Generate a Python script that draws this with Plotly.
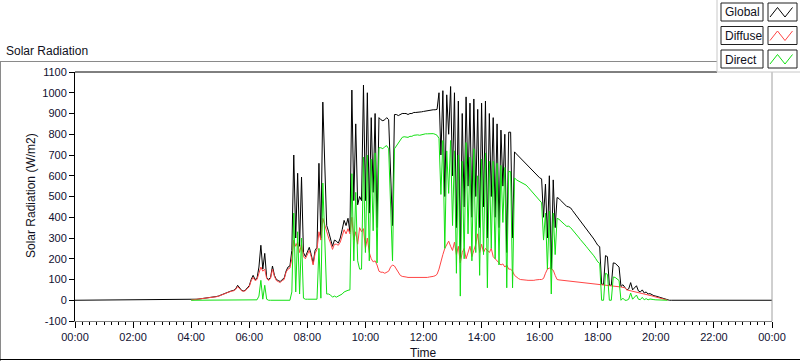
import plotly.graph_objects as go
from datetime import datetime, timedelta

# ---------------- data (W/m2), 4-minute samples starting 04:00 ----------------
day = datetime(2024, 1, 1)
start = day + timedelta(hours=4)
step_min = 4

global_wm2 = [
    2, 3, 4, 5, 6, 7, 8, 9, 10, 11, 12, 14, 16, 18, 20,                      # 04
    24, 28, 32, 36, 40, 45, 46, 48, 55, 72, 58, 48, 45, 48, 60,              # 05
    70, 100, 120, 100, 105, 160, 265, 150, 226, 110, 100, 110, 165, 120, 100,  # 06
    95, 90, 100, 105, 140, 160, 165, 240, 700, 300, 612, 260, 594, 230, 210,   # 07
    230, 255, 220, 178, 240, 255, 660, 300, 955, 700, 360, 330, 300, 260, 290,  # 08
    285, 275, 300, 340, 385, 360, 395, 330, 1013, 480, 850, 460, 500, 480, 1037,  # 09
    480, 1000, 420, 880, 520, 900, 350, 880, 870, 865, 870, 880, 870, 580, 360,  # 10
    895, 895, 890, 895, 900, 900, 900, 895, 900, 900, 905, 905, 905, 905, 908,  # 11
    910, 912, 912, 915, 915, 918, 918, 920, 1000, 700, 1010, 500, 990, 800, 1030,  # 12
    600, 1000, 350, 960, 200, 900, 450, 980, 550, 950, 400, 970, 500, 920, 350,  # 13
    950, 450, 960, 300, 900, 500, 880, 400, 850, 350, 820, 550, 800, 230, 810,  # 14
    810, 300, 715, 705, 695, 685, 680, 665, 660, 650, 640, 630, 620, 610, 600,  # 15
    590, 585, 400, 560, 300, 600, 150, 580, 350, 495, 490, 480, 470, 460, 452,  # 16
    450, 445, 432, 420, 408, 395, 382, 368, 357, 345, 333, 322, 308, 295, 280,  # 17
    265, 258, 78, 76, 215, 210, 73, 72, 180, 178, 170, 160, 66, 75, 62,        # 18
    50, 55, 85, 50, 60, 70, 45, 40, 50, 35, 40, 30, 32, 25, 22,                # 19
    20, 17, 14, 11, 8, 5, 2, 0, 0, 0, 0,                                       # 20
]

diffuse_wm2 = [
    1, 2, 3, 4, 5, 6, 7, 8, 9, 10, 11, 13, 15, 17, 19,
    22, 26, 30, 34, 38, 42, 44, 46, 52, 66, 55, 46, 43, 46, 56,
    65, 95, 110, 95, 100, 130, 160, 140, 150, 105, 95, 105, 150, 115, 95,
    90, 85, 95, 100, 135, 150, 155, 200, 290, 260, 280, 230, 270, 210, 200,
    220, 240, 210, 170, 225, 245, 330, 290, 395, 360, 330, 300, 275, 245, 270,
    270, 265, 280, 310, 340, 320, 345, 320, 400, 290, 330, 270, 350, 330, 345,
    250, 300, 230, 200, 185, 190, 170, 140, 135, 135, 130, 135, 140, 160, 170,
    165, 150, 130, 120, 115, 112, 112, 110, 110, 110, 110, 108, 108, 110, 110,
    110, 110, 110, 112, 112, 115, 118, 125, 150, 190, 220, 250, 270, 285, 260,
    240, 280, 220, 260, 180, 230, 250, 200, 230, 260, 210, 240, 270, 320, 230,
    270, 230, 250, 240, 230, 250, 210, 200, 190, 180, 170, 175, 160, 170, 150,
    150, 140, 120, 110, 105, 100, 100, 98, 97, 96, 95, 95, 96, 98, 100,
    100, 100, 105, 130, 150, 155, 150, 145, 120, 100, 98, 97, 96, 95, 94,
    93, 92, 91, 90, 89, 88, 87, 86, 85, 84, 83, 82, 81, 80, 79,
    78, 77, 76, 75, 74, 73, 72, 71, 70, 69, 68, 66, 64, 62, 60,
    50, 48, 46, 44, 42, 40, 38, 36, 34, 32, 30, 27, 24, 21, 18,
    16, 14, 12, 10, 7, 4, 1,
]

direct_wm2 = [
    0, 0, 0, 0, 0, 0, 0, 0, 0, 0, 0, 0, 1, 1, 1,
    1, 1, 1, 1, 2, 2, 2, 2, 2, 3, 2, 2, 2, 2, 3,
    0, 0, 0, 0, 2, 20, 96, 5, 72, 5, 0, 0, 0, 0, 0,
    0, 0, 0, 0, 0, 0, 0, 40, 420, 40, 330, 30, 300, 10, 5,
    5, 5, 5, 5, 5, 5, 250, 10, 565, 330, 30, 30, 25, 15, 20,
    15, 20, 25, 30, 40, 45, 48, 50, 610, 190, 520, 190, 150, 150, 690,
    230, 700, 190, 680, 335, 710, 180, 735, 735, 730, 740, 745, 730, 420, 190,
    730, 745, 760, 775, 785, 788, 788, 785, 790, 790, 795, 797, 797, 795, 798,
    800, 802, 802, 803, 803, 803, 800, 795, 780, 510, 770, 250, 720, 515, 770,
    360, 720, 130, 700, 20, 670, 200, 760, 320, 690, 190, 730, 230, 600, 120,
    680, 220, 710, 60, 670, 250, 670, 200, 660, 170, 650, 375, 640, 60, 620,
    620, 60, 590, 580, 575, 570, 565, 560, 555, 545, 535, 525, 515, 505, 490,
    480, 470, 290, 420, 150, 430, 30, 420, 220, 395, 390, 380, 372, 364, 356,
    357, 350, 340, 328, 318, 305, 293, 280, 270, 260, 248, 238, 225, 214, 200,
    185, 178, 0, 0, 130, 125, 0, 0, 112, 110, 102, 95, 0, 10, 0,
    0, 5, 35, 5, 15, 25, 5, 3, 14, 2, 8, 2, 6, 3, 3,
    2, 2, 1, 1, 1, 1, 0,
]

series_names = ["Global", "Diffuse", "Direct"]
series_colors = ["#000000", "#ff4545", "#12e012"]
y_ticks = list(range(-100, 1101, 100))


def times(n):
    return [start + timedelta(minutes=step_min * i) for i in range(n)]


t_global = [day] + times(len(global_wm2)) + [day + timedelta(days=1)]
y_global = [0] + global_wm2 + [0]

fig = go.Figure()
fig.add_trace(go.Scatter(x=t_global, y=y_global, mode="lines", name=series_names[0],
                         line=dict(color=series_colors[0], width=1)))
fig.add_trace(go.Scatter(x=times(len(diffuse_wm2)), y=diffuse_wm2, mode="lines", name=series_names[1],
                         line=dict(color=series_colors[1], width=1)))
fig.add_trace(go.Scatter(x=times(len(direct_wm2)), y=direct_wm2, mode="lines", name=series_names[2],
                         line=dict(color=series_colors[2], width=1)))

# ---------------- layout ----------------
L, R, T, B = 75, 772, 72, 321
W, H = 800, 361


def X(px):
    return (px - L) / (R - L)


def Y(py):
    return (B - py) / (B - T)


tick_font = dict(family="Liberation Sans, Arial, sans-serif", size=11, color="#101030")
text_font = dict(family="Liberation Sans, Arial, sans-serif", size=12, color="#101020")

shapes = []


def pline(x0, y0, x1, y1, color, width=1):
    shapes.append(dict(type="line", xref="paper", yref="paper", x0=X(x0), y0=Y(y0), x1=X(x1), y1=Y(y1),
                       line=dict(color=color, width=width)))


def prect(x0, y0, x1, y1, line, fill):
    shapes.append(dict(type="rect", xref="paper", yref="paper", x0=X(x0), y0=Y(y0), x1=X(x1), y1=Y(y1),
                       line=dict(color=line, width=1), fillcolor=fill))


# outer panel frame
pline(0, 61.5, 717, 61.5, "#8a8a8a")
pline(0.5, 61.5, 0.5, 361, "#8a8a8a")
pline(0, 359.5, 800, 359.5, "#000000")
# plot frame top / right
pline(L, T, 717, T, "#000000")
pline(R, T, R, B, "#a0a0a0")

# legend panel
prect(717, -1, 801, 72, "#c8c8c8", "#ffffff")
annotations = []
box_tops = [3, 26.5, 50]
for name, color, top in zip(series_names, series_colors, box_tops):
    prect(721, top, 763, top + 18, "#202020", "#ffffff")
    prect(768, top, 797, top + 18, "#202020", "#ffffff")
    pts = [(770, top + 14), (777.5, top + 4.5), (785, top + 14), (792.5, top + 4.5)]
    path = "M " + " L ".join(f"{X(a)},{Y(b)}" for a, b in pts)
    shapes.append(dict(type="path", xref="paper", yref="paper", path=path,
                       line=dict(color=color, width=1)))
    annotations.append(dict(text=name, xref="paper", yref="paper", x=X(723), y=Y(top + 9.5),
                            xanchor="left", yanchor="middle", showarrow=False, font=text_font))

annotations += [
    dict(text="Solar Radiation", xref="paper", yref="paper", x=X(4), y=Y(51),
         xanchor="left", yanchor="middle", showarrow=False, font=text_font),
    dict(text="Solar Radiation (W/m2)", xref="paper", yref="paper", x=X(31), y=Y(196),
         xanchor="center", yanchor="middle", textangle=-90, showarrow=False, font=text_font),
    dict(text="Time", xref="paper", yref="paper", x=X(423), y=Y(353),
         xanchor="center", yanchor="middle", showarrow=False, font=text_font),
]

fig.update_layout(
    width=W, height=H, autosize=False,
    margin=dict(l=L, r=W - R, t=T, b=H - B, pad=0),
    paper_bgcolor="#ffffff", plot_bgcolor="#ffffff",
    showlegend=False,
    shapes=shapes, annotations=annotations,
    xaxis=dict(
        type="date", range=[day, day + timedelta(days=1)],
        tick0=day, dtick=2 * 3600 * 1000, tickformat="%H:%M",
        ticks="outside", ticklen=6, tickcolor="#000000", tickwidth=1,
        minor=dict(dtick=15 * 60 * 1000, tick0=day, ticks="outside", ticklen=3,
                   tickcolor="#000000", tickwidth=1, showgrid=False),
        showgrid=False, zeroline=False, showline=True, linecolor="#808080", linewidth=1,
        tickfont=tick_font, fixedrange=True,
    ),
    yaxis=dict(
        range=[-100, 1100], tickvals=y_ticks, ticktext=[str(v) for v in y_ticks],
        ticks="outside", ticklen=5, tickcolor="#000000", tickwidth=1,
        showgrid=False, zeroline=False, showline=True, linecolor="#000000", linewidth=1,
        tickfont=tick_font, fixedrange=True,
    ),
)

fig.write_html("out.html", config={"displayModeBar": False},
               post_script="document.body.style.margin='0';document.body.style.overflow='hidden';")
